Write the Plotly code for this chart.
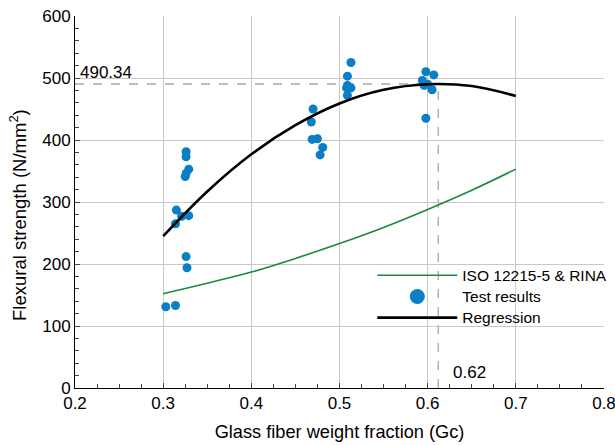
import plotly.graph_objects as go

# Test results (glass fiber weight fraction, flexural strength N/mm2)
test_gc = [0.303, 0.314, 0.327, 0.326, 0.314, 0.315, 0.321, 0.329, 0.325, 0.326, 0.329, 0.326, 0.326,
           0.470, 0.468, 0.469, 0.475, 0.481, 0.478,
           0.513, 0.509, 0.509, 0.508, 0.513, 0.509,
           0.598, 0.607, 0.594, 0.596, 0.600, 0.605, 0.598]
test_strength = [131, 133, 194, 212, 265, 287, 277, 278, 341, 346, 353, 373, 381,
                 450, 429, 401, 402, 388, 376,
                 525, 503, 488, 484, 484, 472,
                 510, 505, 496, 488, 490, 481, 435]

# Curves
curve_gc = [0.30, 0.35, 0.40, 0.45, 0.50, 0.55, 0.60, 0.65, 0.70]
iso_strength = [152, 169, 187, 209, 233, 259, 288, 319, 353]
regression_strength = [245, 317, 377, 424, 459, 481, 490, 487, 471]

x_ticks = [0.2, 0.3, 0.4, 0.5, 0.6, 0.7, 0.8]
y_ticks = [0, 100, 200, 300, 400, 500, 600]

peak_gc_pos = 0.612
peak_gc_label = "0.62"
peak_strength = 490.34

FONT = "Arial, Liberation Sans, sans-serif"


def leg(name):
    return f"<span style='font-size:15.5px'>{name}</span>"


fig = go.Figure()
fig.add_trace(go.Scatter(x=curve_gc, y=iso_strength, mode="lines", name=leg("ISO 12215-5 & RINA"),
                         line=dict(color="#1a8a3c", width=1.6, shape="spline")))
fig.add_trace(go.Scatter(x=test_gc, y=test_strength, mode="markers", name="Test results",
                         showlegend=False, marker=dict(color="#0a7fc4", size=9)))
fig.add_trace(go.Scatter(x=[None], y=[None], mode="markers", name=leg("Test results"),
                         marker=dict(color="#0a7fc4", size=15)))
fig.add_trace(go.Scatter(x=curve_gc, y=regression_strength, mode="lines", name=leg("Regression"),
                         line=dict(color="black", width=2.6, shape="spline")))

# dashed guide lines at regression peak
fig.add_shape(type="line", x0=0.2, x1=peak_gc_pos, y0=peak_strength, y1=peak_strength,
              line=dict(color="#a8a8a8", width=1.3, dash="dash"), layer="below")
fig.add_shape(type="line", x0=peak_gc_pos, x1=peak_gc_pos, y0=0, y1=peak_strength,
              line=dict(color="#a8a8a8", width=1.3, dash="dash"), layer="below")
fig.add_annotation(x=0.2, y=peak_strength, text=f"{peak_strength:.2f}", showarrow=False,
                   xanchor="left", yanchor="bottom", xshift=3, yshift=0,
                   font=dict(size=17, color="black", family=FONT))
fig.add_annotation(x=peak_gc_pos, y=0, text=peak_gc_label, showarrow=False,
                   xanchor="left", yanchor="bottom", xshift=13, yshift=4,
                   font=dict(size=17, color="black", family=FONT))
# y-axis title
fig.add_annotation(xref="paper", yref="paper", x=0, y=0.465, xshift=-57,
                   text="Flexural strength (N/mm<sup>2</sup>)", textangle=-90, showarrow=False,
                   xanchor="center", yanchor="middle", font=dict(size=18.5, color="black", family=FONT))

fig.update_layout(
    width=615, height=445,
    margin=dict(l=75, r=11, t=16, b=57, autoexpand=False),
    paper_bgcolor="white", plot_bgcolor="white",
    font=dict(family=FONT, color="black"),
    showlegend=True,
    legend=dict(x=0.562, y=0.345, xanchor="left", yanchor="top", bgcolor="rgba(0,0,0,0)",
                font=dict(size=14, family=FONT), itemwidth=80, tracegroupgap=0),
    xaxis=dict(range=[0.2, 0.8], tickvals=x_ticks, ticktext=[f"{v:.1f}" for v in x_ticks],
               automargin=False, ticklabeloverflow="allow",
               showgrid=True, gridcolor="#c8c8c8", gridwidth=1,
               showline=True, linecolor="black", linewidth=1,
               ticks="inside", ticklen=5, tickcolor="#444",
               minor=dict(dtick=0.025, tick0=0.2, ticks="inside", ticklen=4, tickcolor="#444", showgrid=False),
               tickfont=dict(size=17), zeroline=False,
               title=dict(text="Glass fiber weight fraction (Gc)", font=dict(size=18.2), standoff=12)),
    yaxis=dict(range=[0, 600], tickvals=y_ticks,
               automargin=False, ticklabeloverflow="allow",
               showgrid=True, gridcolor="#c8c8c8", gridwidth=1,
               showline=True, linecolor="black", linewidth=1,
               ticks="inside", ticklen=5, tickcolor="#444",
               minor=dict(dtick=20, ticks="inside", ticklen=4, tickcolor="#444", showgrid=False),
               tickfont=dict(size=17), zeroline=False),
)

fig.write_html("out.html")
